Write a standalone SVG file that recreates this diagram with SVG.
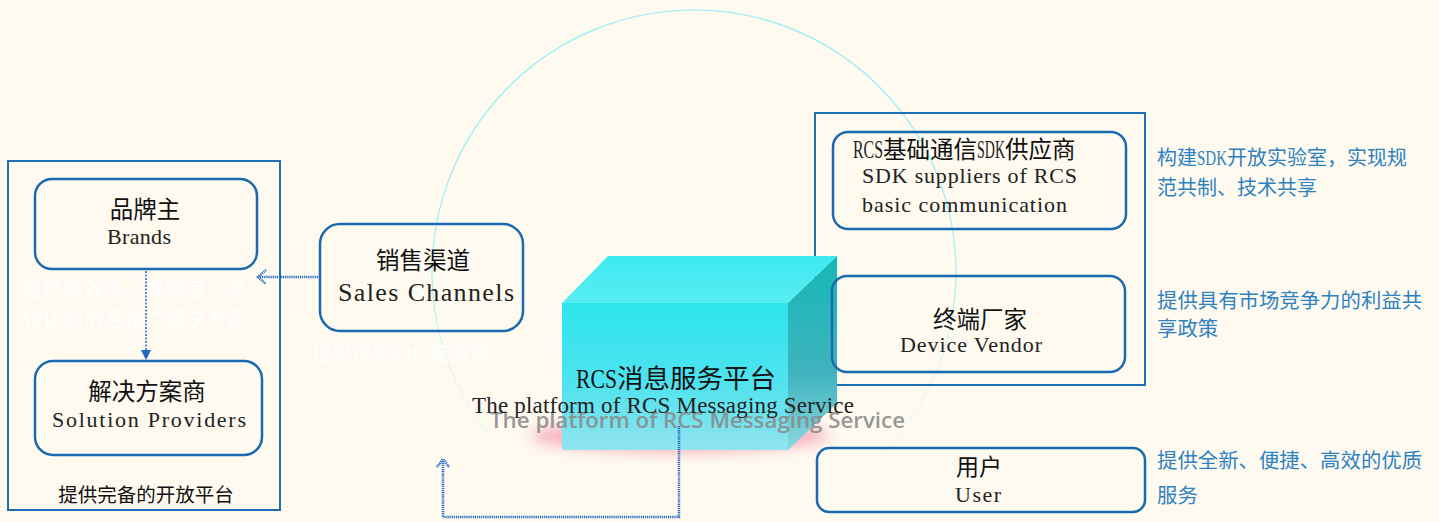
<svg xmlns="http://www.w3.org/2000/svg" width="1439" height="522" viewBox="0 0 1439 522">
<defs>
<style>
.bg{fill:#FEFAF0}
.frame{fill:none;stroke:#1D6FB8;stroke-width:2}
.node{fill:none;stroke:#1A6AB2;stroke-width:2.5}
.zh{font-family:"Noto Sans CJK SC","Noto Sans",sans-serif;fill:#111;font-size:23.5px}
.en{font-family:"Liberation Serif","DejaVu Serif",serif;fill:#222;font-size:22px}
.note{font-family:"Noto Sans CJK SC","Noto Sans",sans-serif;fill:#2F82C2;font-size:20px}
.ghost{font-family:"Noto Sans CJK SC","Noto Sans",sans-serif;fill:#FFFFFF;font-size:20.5px}
.conn{fill:none;stroke:#2466C4;stroke-width:2.5;stroke-dasharray:1.2 0.9}
.conn2{fill:none;stroke:#2466C4;stroke-width:1.5;stroke-dasharray:2 1.5}
</style>
<linearGradient id="gTop" x1="0" y1="0" x2="0" y2="1">
<stop offset="0" stop-color="#3DE9F1"/><stop offset="1" stop-color="#58EEF2"/>
</linearGradient>
<linearGradient id="gFront" x1="0" y1="0" x2="0" y2="1">
<stop offset="0" stop-color="#2DE5EE"/><stop offset="0.55" stop-color="#4FE3EE"/><stop offset="1" stop-color="#92E3EE"/>
</linearGradient>
<linearGradient id="gSide" x1="0" y1="0" x2="0" y2="1">
<stop offset="0" stop-color="#15B8B6"/><stop offset="0.6" stop-color="#3FB3BE"/><stop offset="1" stop-color="#8AD8E0"/>
</linearGradient>
<linearGradient id="gRing" gradientUnits="userSpaceOnUse" x1="0" y1="10" x2="0" y2="534">
<stop offset="0" stop-color="#8FEFF2" stop-opacity="1"/><stop offset="0.5" stop-color="#8FEFF2" stop-opacity="0.85"/><stop offset="0.75" stop-color="#BFF3F2" stop-opacity="0.35"/><stop offset="1" stop-color="#CFF5F2" stop-opacity="0"/>
</linearGradient>
<filter id="blur" x="-30%" y="-100%" width="160%" height="300%">
<feGaussianBlur stdDeviation="7"/>
</filter>
</defs>
<rect class="bg" x="0" y="0" width="1439" height="522"/>

<circle cx="694" cy="272" r="262" fill="none" stroke="url(#gRing)" stroke-width="1.2"/>

<g id="frame-left"><rect class="frame" x="8" y="161" width="272" height="349"/>
<text class="zh" x="146" y="502" text-anchor="middle" style="font-size:19.5px">提供完备的开放平台</text></g>
<g id="frame-right"><rect class="frame" x="815" y="113" width="330" height="272"/></g>

<g id="platform">
<ellipse cx="680" cy="436" rx="150" ry="16" fill="#F5B0BE" filter="url(#blur)"/>
<polygon points="562,303 608,256 837,256 788,303" fill="url(#gTop)"/>
<rect x="562" y="303" width="226" height="147" fill="url(#gFront)"/>
<polygon points="788,303 837,256 837,403 788,450" fill="url(#gSide)"/>
<text x="576" y="388"><tspan class="en" style="font-size:28px;fill:#111" textLength="41" lengthAdjust="spacingAndGlyphs">RCS</tspan><tspan class="zh" style="font-size:26.5px">消息服务平台</tspan></text>
<text x="490" y="428" font-family="'Open Sans','Liberation Sans',sans-serif" font-size="22" font-weight="600" fill="#8A8A8A" fill-opacity="0.9" textLength="415" lengthAdjust="spacingAndGlyphs">The platform of RCS Messaging Service</text>
<text class="en" x="472" y="413" textLength="382" lengthAdjust="spacing" style="font-size:23px">The platform of RCS Messaging Service</text>
</g>

<g id="brands">
<rect class="node" x="35" y="179" width="222" height="90" rx="17"/>
<text class="zh" x="145" y="218" text-anchor="middle">品牌主</text>
<text class="en" x="107" y="244" textLength="64" lengthAdjust="spacing">Brands</text>
</g>
<text class="ghost" x="22" y="297">提供高效率、高精度、高</text>
<text class="ghost" x="22" y="327">转化的消息推广解决方案</text>

<g id="solution">
<rect class="node" x="35" y="361" width="227" height="94" rx="18"/>
<text class="zh" x="147" y="400" text-anchor="middle">解决方案商</text>
<text class="en" x="52" y="427" textLength="194" lengthAdjust="spacing">Solution Providers</text>
</g>

<g id="sales">
<rect class="node" x="320" y="224" width="203" height="107" rx="20"/>
<text class="zh" x="423" y="269" text-anchor="middle">销售渠道</text>
<text class="en" x="338" y="301" textLength="176" lengthAdjust="spacing" style="font-size:26px">Sales Channels</text>
</g>
<text class="ghost" x="313" y="361" style="font-size:19.7px">提供优惠的价格政策</text>

<g id="sdk">
<rect class="node" x="833" y="132" width="293" height="97" rx="15"/>
<text x="853" y="158"><tspan class="en" style="font-size:26px" textLength="30" lengthAdjust="spacingAndGlyphs">RCS</tspan><tspan class="zh">基础通信</tspan><tspan class="en" style="font-size:26px" textLength="28" lengthAdjust="spacingAndGlyphs">SDK</tspan><tspan class="zh">供应商</tspan></text>
<text class="en" x="862" y="183" textLength="215" lengthAdjust="spacing">SDK suppliers of RCS</text>
<text class="en" x="862" y="212" textLength="205" lengthAdjust="spacing">basic communication</text>
</g>

<g id="device">
<rect class="node" x="832" y="276" width="293" height="96" rx="15"/>
<text class="zh" x="980" y="328" text-anchor="middle">终端厂家</text>
<text class="en" x="900" y="352" textLength="142" lengthAdjust="spacing">Device Vendor</text>
</g>

<g id="user">
<rect class="node" x="817" y="448" width="328" height="64" rx="12"/>
<text class="zh" x="979" y="475" text-anchor="middle" style="font-size:23px">用户</text>
<text class="en" x="955" y="502" textLength="46" lengthAdjust="spacing">User</text>
</g>

<g id="notes">
<text class="note" x="1157" y="165"><tspan>构建</tspan><tspan font-family="'Liberation Serif',serif" textLength="30" lengthAdjust="spacingAndGlyphs" style="font-size:22px">SDK</tspan><tspan>开放实验室，实现规</tspan></text>
<text class="note" x="1157" y="195">范共制、技术共享</text>
<text class="note" x="1157" y="308" style="font-size:20.4px">提供具有市场竞争力的利益共</text>
<text class="note" x="1157" y="336" style="font-size:20.4px">享政策</text>
<text class="note" x="1157" y="468" style="font-size:20.4px">提供全新、便捷、高效的优质</text>
<text class="note" x="1157" y="503" style="font-size:20.4px">服务</text>
</g>

<g id="connectors">
<path class="conn2" d="M146,271 V351"/>
<polygon points="141,350 151,350 146,360" fill="#2466C4"/>
<path class="conn" d="M320,277 H260"/>
<path class="conn" d="M266,270 L258,277 L266,284"/>
<path class="conn" d="M679,426 V517 H443 V461"/>
<path class="conn" d="M437,467 L443,459 L449,467"/>
</g>
</svg>
